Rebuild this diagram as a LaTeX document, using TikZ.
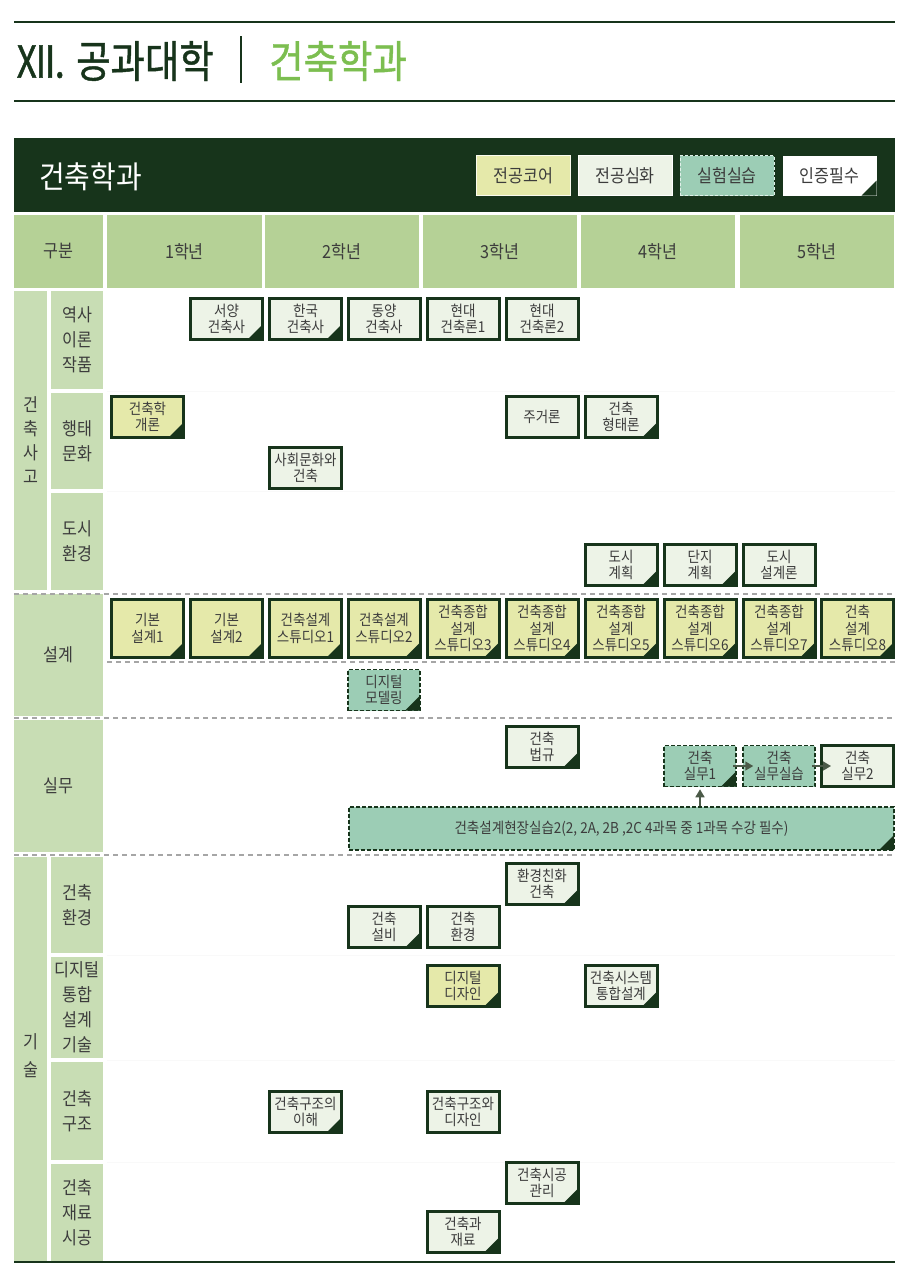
\documentclass[tikz,border=0pt]{standalone}
\usepackage{fontspec}
\setmainfont{Noto Sans CJK KR}[FakeStretch=0.9]
\newfontfamily\titlefont{Noto Sans CJK KR}[FakeStretch=0.85, FakeBold=1]
\usetikzlibrary{arrows.meta}
\definecolor{deepgreen}{RGB}{23,52,27}
\definecolor{headgreen}{RGB}{181,209,150}
\definecolor{sidegreen}{RGB}{200,221,180}
\definecolor{corecolor}{RGB}{229,233,170}
\definecolor{advcolor}{RGB}{237,243,231}
\definecolor{labcolor}{RGB}{156,205,181}
\definecolor{titlegreen}{RGB}{124,190,80}
\definecolor{boxtext}{RGB}{60,60,60}
\definecolor{arrowgray}{RGB}{75,90,72}

\begin{document}
\begin{tikzpicture}[x=1pt, y=-1pt,
    course/.style={draw=deepgreen, line width=3pt, minimum width=72pt, minimum height=41pt,
        inner sep=0pt, align=center, text=boxtext, font=\fontsize{15}{16.5}\selectfont},
    core/.style={course, fill=corecolor},
    adv/.style={course, fill=advcolor},
    lab/.style={course, fill=labcolor, line width=1.5pt, dash pattern=on 4pt off 2pt},
    cert/.style={path picture={\fill[deepgreen] (path picture bounding box.south east)
        -- ++(-15pt,0pt) -- ++(15pt,15pt) -- cycle;}},
    tallbox/.style={minimum height=58pt},
    headcell/.style={fill=headgreen, minimum height=73pt, inner sep=0pt, text=boxtext,
        font=\fontsize{18}{22}\selectfont},
    sidecell/.style={fill=sidegreen, inner sep=0pt, align=center, text=boxtext,
        font=\fontsize{18}{25}\selectfont},
    legend/.style={minimum width=94pt, minimum height=40pt, inner sep=0pt, text=boxtext,
        font=\fontsize{18}{20}\selectfont},
    sep/.style={gray!70, line width=1.3pt, dash pattern=on 5pt off 4pt},
    flow/.style={-{Triangle[length=8pt,width=9pt]}, line width=1.6pt, arrowgray}]
    \useasboundingbox (0,0) rectangle (910,1275);

    % Title
    \draw[deepgreen, line width=1.5pt] (14,22) -- (895,22);
    \draw[deepgreen, line width=1.5pt] (14,101) -- (895,101);
    \node[anchor=west, inner sep=0pt, text=deepgreen, font=\titlefont\fontsize{44}{48}\selectfont] (college) at (17,61) {Ⅻ. 공과대학};
    \draw[deepgreen, line width=2pt] (241,36) -- (241,83);
    \node[anchor=west, inner sep=0pt, text=titlegreen, font=\titlefont\fontsize{44}{48}\selectfont] (dept) at (269,61) {건축학과};

    % Dark header with legend
    \fill[deepgreen] (14,138) rectangle (895,212);
    \node[anchor=west, inner sep=0pt, text=white, font=\fontsize{31}{34}\selectfont] (heading) at (39,177) {건축학과};
    \node[legend, fill=corecolor, draw=white!80!corecolor, line width=1pt] (lgcore) at (523.5,175.5) {전공코어};
    \node[legend, fill=advcolor, draw=white, line width=1pt] (lgadv) at (625,175.5) {전공심화};
    \node[legend, fill=labcolor, draw=white!70!labcolor, line width=1pt, dash pattern=on 3pt off 2pt] (lglab) at (727,175.5) {실험실습};
    \node[legend, fill=white, cert] (lgcert) at (829.5,175.5) {인증필수};

    % Year header
    \node[headcell, minimum width=89pt] (gubun) at (58.5,251.5) {구분};
    \foreach \yr/\cx in {1/184.5, 2/342, 3/500, 4/658, 5/817}
        \node[headcell, minimum width=154.5pt] (year\yr) at (\cx,251.5) {\yr{}학년};

    % Left labels
    \node[sidecell, minimum width=33pt, minimum height=299pt] (thinking) at (30.5,440.5) {};
    \node[text=boxtext, align=center, font=\fontsize{18}{24}\selectfont] at (30.5,440.5) {건\\축\\사\\고};
    \node[sidecell, minimum width=52pt, minimum height=98pt] (history) at (77,340) {역사\\이론\\작품};
    \node[sidecell, minimum width=52pt, minimum height=96pt] (culture) at (77,441) {행태\\문화};
    \node[sidecell, minimum width=52pt, minimum height=97pt] (city) at (77,541.5) {도시\\환경};
    \node[sidecell, minimum width=89pt, minimum height=122pt] (design) at (58.5,655) {설계};
    \node[sidecell, minimum width=89pt, minimum height=132pt] (practice) at (58.5,786) {실무};
    \node[sidecell, minimum width=33pt, minimum height=405pt] (tech) at (30.5,1059.5) {};
    \node[text=boxtext, align=center, font=\fontsize{18}{28}\selectfont] at (30.5,1056) {기\\술};
    \node[sidecell, minimum width=52pt, minimum height=96pt] (envrow) at (77,905) {건축\\환경};
    \node[sidecell, minimum width=52pt, minimum height=101pt] (digrow) at (77,1007.5) {디지털\\통합\\설계\\기술};
    \node[sidecell, minimum width=52pt, minimum height=98pt] (strrow) at (77,1111) {건축\\구조};
    \node[sidecell, minimum width=52pt, minimum height=98pt] (matrow) at (77,1213) {건축\\재료\\시공};

    % Row separators
    \foreach \ry in {391, 491, 955, 1060, 1162}
        \draw[gray!5, line width=1pt] (107,\ry) -- (895,\ry);
    \draw[sep] (14,594) -- (895,594);
    \draw[sep] (107,662) -- (895,662);
    \draw[sep] (14,718) -- (895,718);
    \draw[sep] (14,855) -- (895,855);
    \draw[deepgreen, line width=2pt] (14,1262) -- (895,1262);

    % History, theory
    \node[adv, cert] (westarch) at (226.5,319) {서양\\건축사};
    \node[adv, cert] (korarch) at (305.5,319) {한국\\건축사};
    \node[adv] (eastarch) at (384,319) {동양\\건축사};
    \node[adv] (modern1) at (463,319) {현대\\건축론1};
    \node[adv] (modern2) at (542,319) {현대\\건축론2};

    % Behaviour, culture
    \node[core, cert] (intro) at (147.5,417) {건축학\\개론};
    \node[adv] (housing) at (542,417) {주거론};
    \node[adv, cert] (form) at (621,417) {건축\\형태론};
    \node[adv] (social) at (305.5,468) {사회문화와\\건축};

    % Urban
    \node[adv, cert] (urban) at (621,565) {도시\\계획};
    \node[adv, cert] (complex) at (700,565) {단지\\계획};
    \node[adv] (urbandes) at (779,565) {도시\\설계론};

    % Design studios
    \node[core, cert, tallbox] (basic1) at (147.5,628.5) {기본\\설계1};
    \node[core, cert, tallbox] (basic2) at (226.5,628.5) {기본\\설계2};
    \node[core, cert, tallbox] (studio1) at (305.5,628.5) {건축설계\\스튜디오1};
    \node[core, cert, tallbox] (studio2) at (384,628.5) {건축설계\\스튜디오2};
    \foreach \st/\cx in {3/463, 4/542, 5/621, 6/700, 7/779}
        \node[core, cert, tallbox] (studio\st) at (\cx,628.5) {건축종합\\설계\\스튜디오\st};
    \node[core, cert, tallbox] (studio8) at (857.5,628.5) {건축\\설계\\스튜디오8};
    \node[lab, cert] (dmodel) at (384,690) {디지털\\모델링};

    % Practice
    \node[adv, cert] (law) at (542,747) {건축\\법규};
    \node[lab, cert] (prac1) at (700,766) {건축\\실무1};
    \node[lab] (praclab) at (779,766) {건축\\실무실습};
    \node[adv] (prac2) at (857.5,766) {건축\\실무2};
    \node[lab, cert, minimum width=545pt, minimum height=43pt] (field) at (621.5,828.5) {건축설계현장실습2(2, 2A, 2B ,2C 4과목 중 1과목 수강 필수)};
    \draw[flow] ([xshift=-4pt]prac1.east) -- ([xshift=11pt]praclab.west);
    \draw[flow] ([xshift=-4pt]praclab.east) -- ([xshift=11pt]prac2.west);
    \draw[flow] (prac1.south |- field.north) -- ([yshift=-2pt]prac1.south);

    % Technology
    \node[adv, cert] (eco) at (542,884) {환경친화\\건축};
    \node[adv, cert] (equip) at (384,927) {건축\\설비};
    \node[adv] (envir) at (463,927) {건축\\환경};
    \node[core, cert] (ddesign) at (463,986) {디지털\\디자인};
    \node[adv, cert] (system) at (621,986) {건축시스템\\통합설계};
    \node[adv, cert] (struct1) at (305.5,1112) {건축구조의\\이해};
    \node[adv] (struct2) at (463,1112) {건축구조와\\디자인};
    \node[adv, cert] (constr) at (542,1183) {건축시공\\관리};
    \node[adv, cert] (material) at (463,1232) {건축과\\재료};
\end{tikzpicture}
\end{document}
